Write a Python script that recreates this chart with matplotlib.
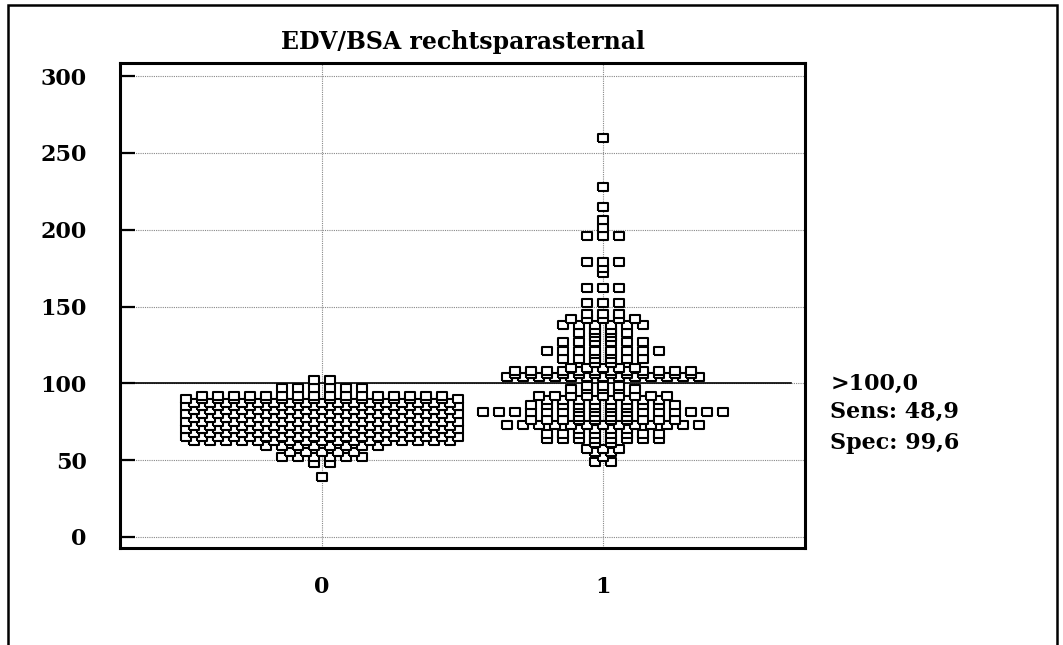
import numpy as np
import matplotlib
matplotlib.use("Agg")
import matplotlib.pyplot as plt
from matplotlib.patches import Rectangle

plt.rcParams['font.family'] = ['DejaVu Serif']
plt.rcParams['font.weight'] = 'bold'

# dot rows: value and number of cases with that value
grp0_vals = [39, 48, 52, 55, 59, 62.5, 65, 67.5, 70, 72.5, 75, 77.5, 80, 82.5, 85, 87.5,
             90, 92, 97, 102]
grp0_counts = [1, 2, 6, 5, 8, 17, 18, 17, 18, 17, 18, 17, 18, 17, 18, 17,
               18, 16, 6, 2]

grp1_vals = [49, 52, 55, 57, 61, 64, 67, 70, 73, 76, 78, 81, 84, 86, 89, 92, 96, 98,
             104, 106, 108, 110, 113, 116, 119, 121, 127, 130, 133, 135, 138, 142, 145,
             152, 162, 172, 175, 179, 196, 201, 206, 215, 228, 260]
grp1_counts = [2, 1, 2, 3, 2, 8, 8, 4, 13, 10, 4, 16, 4, 10, 8, 9, 5, 3,
               13, 12, 12, 5, 2, 6, 2, 8, 6, 2, 4, 2, 6, 5, 3,
               3, 3, 1, 1, 3, 3, 1, 1, 1, 1, 1]

groups = ['0', '1']
cutoff = 100.0
sens = 48.9
spec = 99.6

step = 16 / 281.0   # horizontal spacing of dots in a row


def dot_rows(center, vals, counts):
    xs, ys = [], []
    for v, n in sorted(zip(vals, counts)):
        off = (np.arange(n) - (n - 1) / 2.0) * step
        xs.extend(center + off)
        ys.extend([v] * n)
    return np.array(xs), np.array(ys)


fig = plt.figure(figsize=(10.63, 6.45), dpi=100)
ax = fig.add_axes([0.1129, 0.1504, 0.6444, 0.7519])

box = [(-1.2, -0.9), (1.2, -0.9), (1.2, 0.9), (-1.2, 0.9), (-1.2, -0.9)]
for i, (vals, counts) in enumerate([(grp0_vals, grp0_counts), (grp1_vals, grp1_counts)]):
    x, y = dot_rows(i, vals, counts)
    ax.plot(x, y, ls='none', marker=box, ms=7.6, mfc='white', mec='black',
            mew=1.5, zorder=3)

ax.plot([-0.72, 1.67], [cutoff, cutoff], color='black', lw=1.2, zorder=2)

ax.set_xlim(-0.72, 1.72)
ax.set_ylim(-7.2, 308.5)
ax.set_xticks([0, 1])
ax.set_xticklabels(groups)
ax.set_yticks(np.arange(0, 301, 50))
ax.grid(True, linestyle=(0, (1, 1)), color='#888888', lw=0.8, zorder=0)
ax.set_axisbelow(True)
for s in ax.spines.values():
    s.set_linewidth(2.2)
ax.tick_params(axis='y', direction='in', length=11, width=1.6, pad=24, labelsize=16)
ax.tick_params(axis='x', length=0, pad=20, labelsize=16)
ax.set_title('EDV/BSA rechtsparasternal', fontsize=17, fontweight='bold', pad=10)

ax.text(1.81, cutoff, '>%.1f' % cutoff, fontsize=16, va='center', ha='left', clip_on=False)
ax.text(1.81, 81.3, 'Sens: %.1f' % sens, fontsize=16, va='center', ha='left', clip_on=False)
ax.text(1.81, 61.2, 'Spec: %.1f' % spec, fontsize=16, va='center', ha='left', clip_on=False)
for t in ax.texts:
    t.set_text(t.get_text().replace('.', ','))

fig.add_artist(Rectangle((8 / 1063, -0.05), 1049 / 1063, 1.05 - 5 / 645,
                         transform=fig.transFigure, fill=False, lw=1.8,
                         edgecolor='black'))

fig.savefig('out.png', dpi=100)
